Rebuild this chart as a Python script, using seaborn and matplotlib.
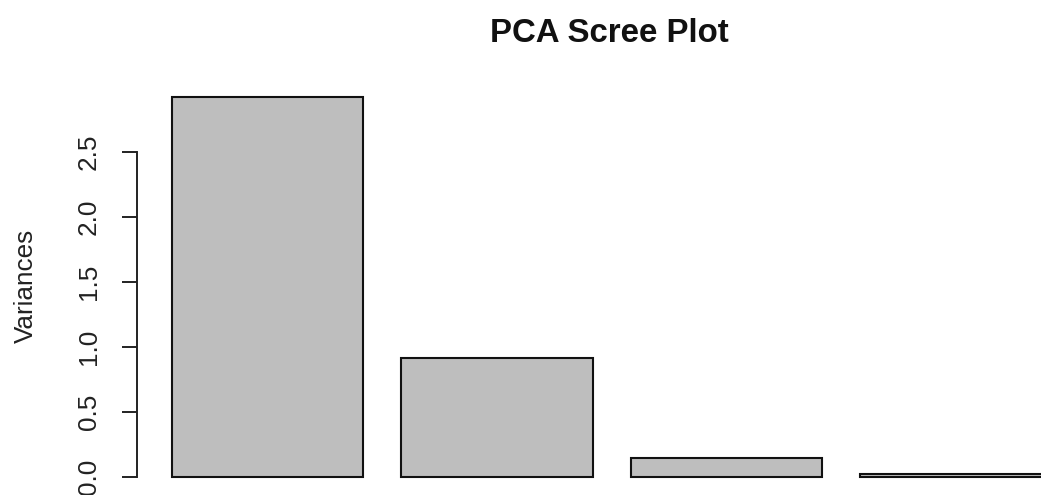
import matplotlib
matplotlib.use("Agg")
import matplotlib.pyplot as plt
import seaborn as sns
import pandas as pd

# Variance explained by each principal component
components = ["PC1", "PC2", "PC3", "PC4"]
variances = [2.918, 0.914, 0.147, 0.021]
y_ticks = [0.0, 0.5, 1.0, 1.5, 2.0, 2.5]
y_tick_labels = ["0.0", "0.5", "1.0", "1.5", "2.0", "2.5"]

sns.set_theme(style="white")
plt.rcParams["font.family"] = ["Liberation Sans", "DejaVu Sans"]

W, H = 1041, 495
fig = plt.figure(figsize=(W / 100, H / 100), dpi=100)

# plot region in pixels (it runs past the right edge of the canvas)
left_px, right_px = 136.7, 1041.0
top_px, bottom_px = 79.7, 491.9
ax = fig.add_axes([left_px / W, 1 - bottom_px / H,
                   (right_px - left_px) / W, (bottom_px - top_px) / H])

df = pd.DataFrame({"component": components, "variance": variances})
sns.barplot(data=df, x="component", y="variance", color="#BEBEBE",
            saturation=1, width=1 / 1.2, edgecolor="#111111",
            linewidth=1.5, ax=ax)

ax.set_xlim(-0.570, 3.370)
ax.set_ylim(-0.117, 3.054)

for side in ("top", "right", "bottom"):
    ax.spines[side].set_visible(False)
ax.spines["left"].set_bounds(0, 2.5)
ax.spines["left"].set_color("#222222")
ax.spines["left"].set_linewidth(1.4)

ax.set_xticks([])
ax.set_xlabel("")
ax.set_yticks(y_ticks)
ax.set_yticklabels(y_tick_labels, rotation=90, va="center")
ax.tick_params(axis="y", left=True, direction="out", length=10.8, width=1.4,
               color="#222222", pad=15, labelsize=18.8, labelcolor="#222222")

ax.set_ylabel("Variances", fontsize=18.8, color="#222222")
ax.yaxis.set_label_coords(-0.1098, 0.5)

fig.text(609.5 / W, 1 - 41.7 / H, "PCA Scree Plot", ha="center",
         va="baseline", fontsize=23.8, fontweight="bold", color="#111111")

fig.savefig("out.png", dpi=100)
